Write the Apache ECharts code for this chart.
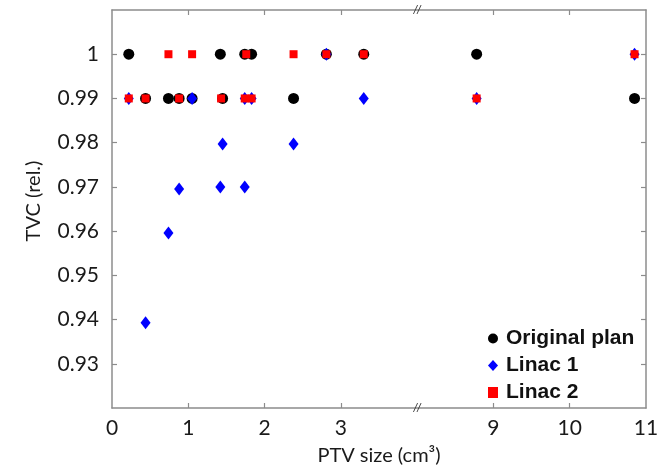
<!DOCTYPE html>
<html>
<head>
<meta charset="utf-8">
<script src="https://cdn.jsdelivr.net/npm/echarts@6/dist/echarts.min.js"></script>
<style>html,body{margin:0;padding:0;background:#fff}#c{width:667px;height:473px}</style>
</head>
<body>
<div id="c"></div>
<script>
// PTV size (cm3) and TVC (rel.) per series
const origX = [0.22, 0.44, 0.74, 0.88, 1.05, 1.42, 1.45, 1.74, 1.83, 2.38, 2.81, 3.30, 8.78, 10.85];
const origY = [1, 0.99, 0.99, 0.99, 0.99, 1, 0.99, 1, 1, 0.99, 1, 1, 1, 0.99];
const linac1X = [0.22, 0.44, 0.74, 0.88, 1.05, 1.42, 1.45, 1.74, 1.74, 1.83, 2.38, 2.81, 3.30, 8.78, 10.85];
const linac1Y = [0.99, 0.9393, 0.9596, 0.9695, 0.99, 0.97, 0.9797, 0.97, 0.99, 0.99, 0.9797, 1, 0.99, 0.99, 1];
const linac2X = [0.22, 0.44, 0.74, 0.88, 1.05, 1.43, 1.76, 1.74, 1.83, 2.38, 2.81, 3.30, 8.78, 10.85];
const linac2Y = [0.99, 0.99, 1, 0.99, 1, 0.99, 1, 0.99, 0.99, 1, 1, 1, 0.99, 1];
const seriesNames = ['Original plan', 'Linac 1', 'Linac 2'];
const xTickValues = [0, 1, 2, 3, 9, 10, 11];
const yTickValues = [0.93, 0.94, 0.95, 0.96, 0.97, 0.98, 0.99, 1];

// broken x-axis: 3..9 compressed, values >= 9 shifted by 4
const BREAK_SHIFT = 4;
const toPos = x => (x >= 6 ? x - BREAK_SHIFT : x);
const fromPos = p => (p > 4 ? p + BREAK_SHIFT : p);
const pts = (xs, ys) => xs.map((x, i) => [toPos(x), ys[i]]);

const labelFont = 'Lato';
const axisColor = '#8c8c8c';
const xLabelPos = xTickValues.map(toPos);
const xTickPos = xLabelPos.filter(p => p !== 0 && p !== 7);

function xAxisCfg(pos, showLabel) {
  return {
    type: 'value', position: pos, min: 0, max: 7,
    axisLine: { show: true, onZero: false, lineStyle: { color: axisColor, width: 1.5 } },
    axisTick: { show: true, inside: true, length: 5, customValues: xTickPos, lineStyle: { color: axisColor, width: 1.2 } },
    axisLabel: { show: showLabel, customValues: xLabelPos, formatter: v => String(Math.round(fromPos(v))),
      fontFamily: labelFont, fontSize: 21, color: '#1a1a1a', margin: 10 },
    splitLine: { show: false },
    name: showLabel ? 'PTV size (cm³)' : '', nameLocation: 'middle', nameGap: 38,
    nameTextStyle: { fontFamily: labelFont, fontSize: 20, color: '#1a1a1a' }
  };
}
function yAxisCfg(pos, showLabel) {
  return {
    type: 'value', position: pos, min: 0.92, max: 1.01,
    axisLine: { show: true, onZero: false, lineStyle: { color: axisColor, width: 1.5 } },
    axisTick: { show: true, inside: true, length: 5, customValues: yTickValues, lineStyle: { color: axisColor, width: 1.2 } },
    axisLabel: { show: showLabel, customValues: yTickValues, formatter: v => String(+v.toFixed(2)),
      fontFamily: labelFont, fontSize: 21, color: '#1a1a1a', margin: 13 },
    splitLine: { show: false },
    name: showLabel ? 'TVC (rel.)' : '', nameLocation: 'middle', nameGap: 68,
    nameTextStyle: { fontFamily: labelFont, fontSize: 20, color: '#1a1a1a', padding: [0, 0, 0, 16] }
  };
}

const chart = echarts.init(document.getElementById('c'), null, { renderer: 'canvas' });
chart.setOption({
  animation: false,
  grid: { left: 112, right: 21, top: 10, bottom: 65 },
  xAxis: [xAxisCfg('bottom', true), xAxisCfg('top', false)],
  yAxis: [yAxisCfg('left', true), yAxisCfg('right', false)],
  legend: {
    orient: 'vertical', left: 483, top: 323, itemGap: 6, itemWidth: 10, itemHeight: 11,
    textStyle: { fontFamily: 'Liberation Sans', fontWeight: 'bold', fontSize: 21, color: '#111', lineHeight: 21, padding: [0, 0, 0, 3] },
    data: [
      { name: seriesNames[0], icon: 'circle' },
      { name: seriesNames[1], icon: 'diamond' },
      { name: seriesNames[2], icon: 'rect' }
    ]
  },
  series: [
    { name: seriesNames[0], type: 'scatter', data: pts(origX, origY), symbol: 'circle', symbolSize: 11,
      itemStyle: { color: '#000', opacity: 1 } },
    { name: seriesNames[1], type: 'scatter', data: pts(linac1X, linac1Y), symbol: 'diamond', symbolSize: [10, 13],
      itemStyle: { color: '#0000ff', opacity: 1 } },
    { name: seriesNames[2], type: 'scatter', data: pts(linac2X, linac2Y), symbol: 'rect', symbolSize: 8,
      itemStyle: { color: '#ff0000', opacity: 1 } }
  ]
});

// break marks on the bottom and top axis
const b1 = chart.convertToPixel({ xAxisIndex: 0, yAxisIndex: 0 }, [4, 0.92]);
const b2 = chart.convertToPixel({ xAxisIndex: 0, yAxisIndex: 0 }, [4, 1.01]);
chart.setOption({
  graphic: [b1, b2].map(p => ({
    type: 'text', x: p[0], y: p[1], z: 100,
    style: { text: '//', fontSize: 10, fontFamily: 'DejaVu Sans', fontStyle: 'italic', fill: '#333', align: 'center', verticalAlign: 'middle' }
  }))
});
</script>
</body>
</html>
